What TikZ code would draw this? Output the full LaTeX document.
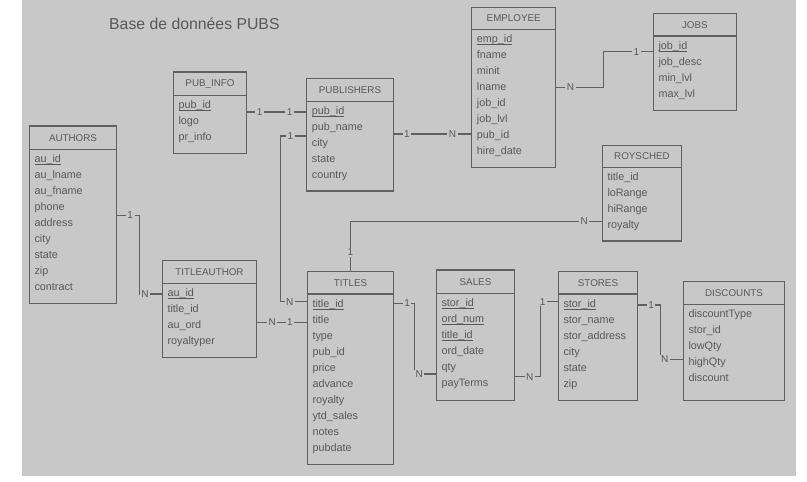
\documentclass[tikz,border=0pt]{standalone}
\usepackage{fontspec}
\setmainfont{Liberation Sans}
\usetikzlibrary{fit}

\definecolor{bggray}{RGB}{200,200,200}
\definecolor{linegray}{RGB}{96,96,96}
\definecolor{txtgray}{RGB}{88,88,88}

% champ cle : souligne a la hauteur du tiret bas
\newcommand{\keyattr}[1]{\setbox0\hbox{#1}\rlap{\rule[-1.8pt]{\wd0}{0.6pt}}\box0}

% table : nom, x1, y1, x2, y2, bas de l'entete, titre, champs
\newcommand{\ertable}[8]{%
  \node[tblbox, fit={(#2,#3) (#4,#5)}] (#1) {};
  \draw[tblline] (#2,#6) -- (#4,#6);
  \node[tblhead] (#1-head) at ({(#2+#4)/2}, {(#3+#6)/2}) {#7};
  \foreach \fld [count=\i from 0] in {#8}
    \node[tblrow] (#1-\i) at ({#2+5}, {#6+10.5+16*\i}) {\fld};
}

\begin{document}
\begin{tikzpicture}[x=1pt, y=-1pt,
    tblbox/.style={draw=linegray, line width=1.2pt, inner sep=0pt},
    tblline/.style={draw=linegray, line width=1.2pt},
    tblhead/.style={text=txtgray, inner sep=0pt, font=\fontsize{9.8}{11}\selectfont},
    tblrow/.style={anchor=west, text=txtgray, inner sep=0pt, text height=7.8pt, text depth=2.2pt, font=\fontsize{10.8}{12}\selectfont},
    rel/.style={draw=linegray, line width=1.2pt},
    card/.style={fill=bggray, text=txtgray, inner xsep=1.5pt, inner ysep=1pt, font=\fontsize{10}{11}\selectfont}]

    % fond gris
    \useasboundingbox (0,0) rectangle (807,482);
    \fill[bggray] (22,0) rectangle (796,476);

    % titre
    \node[anchor=west, inner sep=0pt, text=txtgray, font=\fontsize{15.8}{18}\selectfont] (dbtitle) at (109,24) {Base de données PUBS};

    % tables
    \ertable{pubinfo}{173.3}{72}{246.7}{153.3}{95.3}{PUB\_INFO}{\keyattr{pub\_id}, logo, pr\_info}
    \ertable{authors}{29.3}{126}{116.7}{303.3}{149.3}{AUTHORS}{\keyattr{au\_id}, au\_lname, au\_fname, phone, address, city, state, zip, contract}
    \ertable{publishers}{306.7}{78.3}{393.3}{191}{101.3}{PUBLISHERS}{\keyattr{pub\_id}, pub\_name, city, state, country}
    \ertable{employee}{471.7}{7.3}{555.7}{167.3}{29.3}{EMPLOYEE}{\keyattr{emp\_id}, fname, minit, lname, job\_id, job\_lvl, pub\_id, hire\_date}
    \ertable{jobs}{653.3}{13.3}{736.3}{110.3}{36}{JOBS}{\keyattr{job\_id}, job\_desc, min\_lvl, max\_lvl}
    \ertable{roysched}{602.3}{145.3}{681.7}{241}{167.3}{ROYSCHED}{title\_id, loRange, hiRange, royalty}
    \ertable{titleauthor}{162.3}{260.3}{256.7}{357.3}{283.3}{TITLEAUTHOR}{\keyattr{au\_id}, title\_id, au\_ord, royaltyper}
    \ertable{titles}{307.3}{271.3}{393.7}{464.3}{294}{TITLES}{\keyattr{title\_id}, title, type, pub\_id, price, advance, royalty, ytd\_sales, notes, pubdate}
    \ertable{sales}{436.3}{270}{514.7}{400.3}{293.3}{SALES}{\keyattr{stor\_id}, \keyattr{ord\_num}, \keyattr{title\_id}, ord\_date, qty, payTerms}
    \ertable{stores}{558.3}{271.3}{637.7}{400.3}{294}{STORES}{\keyattr{stor\_id}, stor\_name, stor\_address, city, state, zip}
    \ertable{discounts}{683.3}{281.3}{784.7}{400.3}{304.3}{DISCOUNTS}{discountType, stor\_id, lowQty, highQty, discount}

    % relations
    \draw[rel] (pubinfo.east |- 0,112) -- node[card, pos=.21] (r1a) {1} node[card, pos=.72] (r1b) {1} (publishers.west |- 0,112);
    \draw[rel] (publishers.west |- 0,136) -- node[card, pos=.62] (r2a) {1} (280.7,136) -- (280.7,301.7)
        -- node[card, pos=.35] (r2b) {N} (titles.west |- 0,301.7);
    \draw[rel] (publishers.east |- 0,134) -- node[card, pos=.17] (r3a) {1} node[card, pos=.76] (r3b) {N} (employee.west |- 0,134);
    \draw[rel] (employee.east |- 0,87.3) -- node[card, pos=.3] (r4a) {N} (603.3,87.3) -- (603.3,51.7)
        -- node[card, pos=.67] (r4b) {1} (jobs.west |- 0,51.7);
    \draw[rel] (authors.east |- 0,215.3) -- node[card, pos=.59] (r5a) {1} (139.3,215.3) -- (139.3,294)
        -- node[card, pos=.25] (r5b) {N} (titleauthor.west |- 0,294);
    \draw[rel] (titleauthor.east |- 0,322.3) -- node[card, pos=.3] (r6a) {N} node[card, pos=.66] (r6b) {1} (titles.west |- 0,322.3);
    \draw[rel] (titles.north) -- node[card, pos=.37] (r7a) {1} (titles.north |- 0,221.3)
        -- node[card, pos=.93] (r7b) {N} (roysched.west |- 0,221.3);
    \draw[rel] (titles.east |- 0,303.3) -- node[card, pos=.64] (r8a) {1} (414.3,303.3) -- (414.3,374)
        -- node[card, pos=.23] (r8b) {N} (sales.west |- 0,374);
    \draw[rel] (sales.east |- 0,376.7) -- node[card, pos=.57] (r9a) {N} (540.5,376.7) -- (540.5,301.7)
        -- node[card, pos=.12] (r9b) {1} (stores.west |- 0,301.7);
    \draw[rel] (stores.east |- 0,305) -- node[card, pos=.57] (r10a) {1} (660.7,305) -- (660.7,359.3)
        -- node[card, pos=.18] (r10b) {N} (discounts.west |- 0,359.3);

\end{tikzpicture}
\end{document}
